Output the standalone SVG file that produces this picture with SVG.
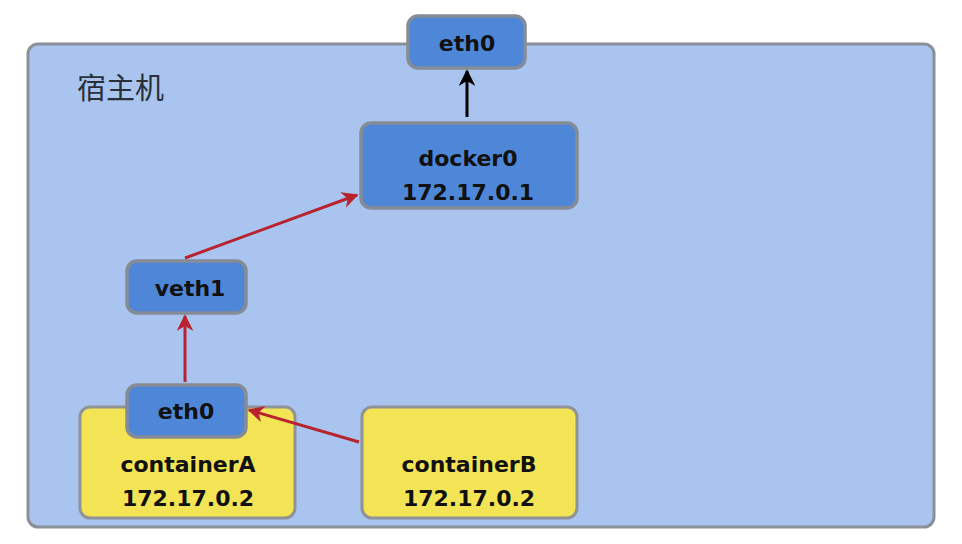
<svg xmlns="http://www.w3.org/2000/svg" width="962" height="544" viewBox="0 0 962 544">
<defs>
<style>
.host{fill:#a9c5ef;stroke:#8a8f98;stroke-width:3}
.blue{fill:#4e86d8;stroke:#858c96;stroke-width:3.5}
.yellow{fill:#f3e455;stroke:#8f9296;stroke-width:3}
.t{font-family:"DejaVu Sans","Liberation Sans",sans-serif;font-size:22px;font-weight:bold;fill:#111;text-anchor:middle;dominant-baseline:central}
.cjk{font-family:"Noto Sans CJK SC",sans-serif;font-size:29px;fill:#2a2f3a;dominant-baseline:central}
.red{stroke:#b8232e;stroke-width:3;fill:none}
.blk{stroke:#000;stroke-width:3;fill:none}
</style>
<marker id="ar" viewBox="0 0 10 10" refX="9" refY="5" markerWidth="5.5" markerHeight="5.5" orient="auto" markerUnits="strokeWidth"><path d="M0,0 L10,5 L0,10 L3,5 z" fill="#b8232e"/></marker>
<marker id="ab" viewBox="0 0 10 10" refX="9" refY="5" markerWidth="5.5" markerHeight="5.5" orient="auto" markerUnits="strokeWidth"><path d="M0,0 L10,5 L0,10 L3,5 z" fill="#000"/></marker>
</defs>
<rect width="962" height="544" fill="#fff"/>
<g id="host">
<rect class="host" x="28" y="44" width="906" height="483" rx="10"/>
<text class="cjk" x="77" y="86">宿主机</text>
</g>
<g id="containerA">
<rect class="yellow" x="80" y="407" width="215" height="111" rx="10"/>
<text class="t" x="188" y="464">containerA</text>
<text class="t" x="188" y="498">172.17.0.2</text>
</g>
<g id="containerB">
<rect class="yellow" x="362" y="407" width="215" height="111" rx="10"/>
<text class="t" x="469" y="464">containerB</text>
<text class="t" x="469" y="498">172.17.0.2</text>
</g>
<g id="eth0-top">
<rect class="blue" x="408" y="16" width="117" height="52" rx="10"/>
<text class="t" x="467" y="43">eth0</text>
</g>
<g id="docker0">
<rect class="blue" x="361" y="123" width="216" height="85" rx="10"/>
<text class="t" x="468" y="158">docker0</text>
<text class="t" x="468" y="192">172.17.0.1</text>
</g>
<g id="veth1">
<rect class="blue" x="127" y="261" width="119" height="52" rx="10"/>
<text class="t" x="190" y="288">veth1</text>
</g>
<g id="eth0-a">
<rect class="blue" x="127" y="385" width="119" height="52" rx="10"/>
<text class="t" x="186" y="411">eth0</text>
</g>
<g id="connectors">
<line class="blk" x1="467" y1="117" x2="467" y2="71" marker-end="url(#ab)"/>
<line class="red" x1="185" y1="258" x2="357" y2="195" marker-end="url(#ar)"/>
<line class="red" x1="185" y1="382" x2="185" y2="316" marker-end="url(#ar)"/>
<line class="red" x1="359" y1="442" x2="249" y2="410" marker-end="url(#ar)"/>
</g>
</svg>
